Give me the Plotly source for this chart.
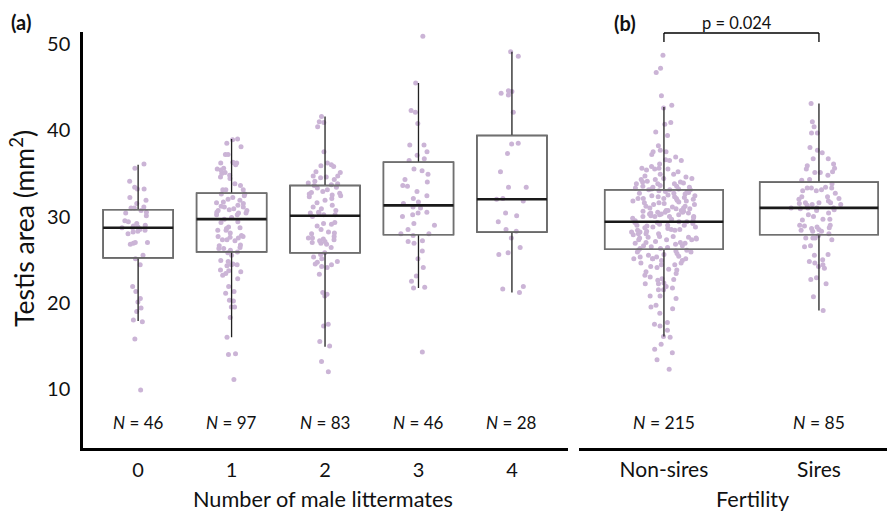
import plotly.graph_objects as go

# ---------------- data ----------------
cats_a = ["0", "1", "2", "3", "4"]
n_a = [46, 97, 83, 46, 28]
cats_b = ["Non-sires", "Sires"]
n_b = [215, 85]
p_text = "p = 0.024"

vals_0 = [36.1, 35.6, 34.1, 33.4, 33.2, 33.2, 32.2, 31.9, 31.5, 31.1, 31.0, 31.0, 30.7, 30.5, 30.4, 30.1,
          29.5, 29.4, 29.2, 29.0, 28.9, 28.8, 28.7, 28.7, 28.5, 28.4, 28.3, 28.2, 28.0, 27.0, 27.0, 26.9,
          26.8, 25.5, 25.1, 24.4, 21.9, 21.3, 20.5, 20.1, 19.4, 19.0, 18.0, 17.8, 15.8, 9.9]
vals_1 = [39.0, 38.9, 38.5, 38.1, 37.2, 37.2, 36.2, 36.2, 36.0, 36.2, 36.3, 35.6, 35.5, 35.4, 35.1, 34.8,
          35.0, 34.6, 34.4, 33.8, 33.6, 33.1, 33.1, 33.1, 32.6, 32.6, 32.4, 32.2, 32.0, 31.9, 31.7, 31.6,
          31.5, 31.3, 31.2, 31.1, 31.1, 30.9, 30.8, 30.7, 30.7, 30.5, 30.4, 30.4, 30.2, 30.2, 29.9, 29.7,
          29.4, 29.3, 28.8, 28.7, 28.6, 28.4, 28.4, 28.1, 27.8, 27.7, 27.7, 27.6, 27.5, 27.3, 27.3, 27.2,
          26.7, 26.6, 26.4, 26.3, 26.3, 26.1, 25.9, 25.8, 25.5, 24.9, 24.8, 24.5, 24.4, 24.4, 24.3, 23.8,
          23.7, 23.6, 23.4, 23.2, 22.8, 21.9, 21.3, 21.1, 20.3, 20.2, 19.5, 19.5, 18.3, 16.0, 14.1, 14.0, 11.1]
vals_2 = [41.6, 41.0, 40.9, 40.4, 37.5, 36.2, 36.0, 35.8, 35.9, 35.2, 35.1, 34.7, 34.7, 34.6, 34.5, 34.3,
          34.1, 33.9, 33.8, 33.7, 33.6, 33.4, 33.3, 33.1, 32.9, 32.8, 32.7, 32.6, 32.5, 32.4, 32.3, 32.1,
          31.9, 31.6, 31.3, 31.1, 30.9, 30.7, 30.5, 30.4, 30.4, 30.2, 30.2, 29.3, 29.2, 29.1, 28.9, 28.5,
          28.2, 28.1, 28.0, 27.7, 27.5, 27.5, 27.4, 27.3, 27.2, 27.1, 27.0, 26.9, 26.4, 25.8, 25.6, 25.3,
          25.1, 24.8, 24.7, 24.5, 24.4, 24.2, 24.1, 23.3, 21.2, 21.0, 20.8, 17.5, 17.3, 15.5, 15.0, 13.2,
          12.0, 30.0, 26.8]
vals_3 = [50.9, 45.5, 42.3, 42.1, 40.8, 38.3, 38.3, 37.5, 37.1, 36.7, 36.5, 35.5, 35.3, 34.9, 34.3, 34.0,
          33.6, 33.5, 32.9, 32.4, 32.1, 31.7, 31.5, 31.1, 31.0, 30.5, 30.4, 30.2, 30.0, 29.2, 29.0, 28.5,
          28.0, 28.0, 27.8, 27.2, 27.1, 26.9, 26.0, 25.1, 24.1, 23.1, 22.5, 21.8, 21.7, 14.3]
vals_4 = [49.1, 48.6, 44.6, 44.5, 44.3, 44.1, 42.1, 38.5, 38.4, 37.3, 35.2, 33.4, 33.4, 32.1, 32.0, 31.8,
          30.4, 30.1, 29.4, 28.5, 28.3, 27.5, 26.4, 25.8, 25.6, 21.9, 21.6, 21.2]

vals_ns = [48.7, 47.2, 46.7, 44.0, 42.9, 42.6, 40.9, 40.7, 39.8, 39.4, 38.2, 37.5, 37.7, 37.5, 37.2, 36.9,
           36.5, 36.5, 36.6, 35.8, 35.4, 35.6, 35.6, 35.5, 35.5, 34.9, 34.7, 34.9, 34.6, 34.3, 34.4, 34.3,
           34.0, 34.0, 33.9, 33.8, 33.8, 33.6, 33.5, 33.4, 33.4, 33.2, 32.9, 33.1, 33.2, 33.1, 32.9, 32.7,
           32.8, 32.5, 32.4, 32.3, 32.1, 32.1, 32.1, 32.3, 32.1, 31.8, 31.7, 31.6, 31.2, 31.2, 31.4, 30.9,
           30.7, 30.7, 30.5, 30.6, 30.4, 30.5, 30.9, 30.2, 30.3, 30.2, 30.3, 30.0, 30.0, 30.0, 29.4, 29.3,
           29.3, 29.4, 29.5, 29.2, 29.0, 29.0, 28.9, 28.6, 28.3, 28.0, 28.0, 28.5, 28.2, 28.8, 28.4, 28.5,
           27.7, 27.7, 27.3, 27.6, 27.3, 27.5, 27.5, 27.3, 27.0, 26.8, 27.0, 26.9, 26.3, 25.9, 26.9, 26.6,
           26.1, 26.0, 26.4, 26.1, 25.1, 25.1, 25.1, 25.3, 25.3, 25.4, 25.9, 25.1, 24.6, 24.9, 24.2, 24.4,
           24.4, 23.8, 23.9, 23.6, 23.0, 22.7, 22.6, 22.8, 22.3, 22.2, 21.9, 22.2, 21.7, 21.5, 21.5, 20.8,
           20.8, 20.5, 19.3, 19.5, 19.7, 18.8, 17.7, 17.5, 17.3, 16.8, 16.1, 16.0, 15.2, 14.6, 14.2, 13.4,
           12.3,
           34.4, 34.1, 33.5, 33.3, 33.0, 32.7, 32.4, 32.2, 32.0, 31.8, 31.6, 31.4, 31.1, 31.0, 30.7, 30.5,
           30.4, 30.0, 29.8, 29.7, 29.1, 28.8, 28.7, 28.2, 27.9, 27.6, 27.1, 26.6, 26.3, 25.7, 25.5, 24.9,
           24.1, 23.2,
           36.1, 35.2, 33.8, 33.1, 32.6, 31.9, 31.5, 31.0, 30.6, 30.1, 29.9, 29.5, 29.0, 28.4, 28.0, 27.4,
           26.5, 25.6, 24.6, 23.4]
vals_s = [43.1, 41.0, 40.4, 39.7, 39.7, 38.0, 37.7, 37.4, 36.7, 36.7, 36.1, 35.9, 35.6, 35.5, 35.1, 35.1,
          35.2, 34.8, 34.2, 34.3, 33.8, 33.4, 33.3, 33.3, 33.3, 33.0, 33.0, 32.7, 32.3, 32.3, 32.1, 32.0,
          31.6, 31.8, 31.6, 31.4, 31.4, 31.3, 31.6, 31.0, 30.8, 31.0, 30.9, 31.0, 31.0, 30.4, 30.2, 29.7,
          29.6, 29.7, 29.0, 28.9, 29.0, 28.8, 28.7, 28.5, 28.4, 28.6, 28.3, 28.3, 27.8, 27.5, 27.5, 27.5,
          27.3, 26.6, 26.5, 25.6, 25.5, 25.0, 24.8, 24.6, 24.4, 24.0, 24.2, 22.9, 22.7, 22.2, 20.7, 19.1,
          33.1, 31.5, 30.7, 30.0, 28.0]

# box statistics
q1_a = [25.2, 25.9, 25.8, 27.9, 28.2]
med_a = [28.7, 29.7, 30.1, 31.3, 32.0]
q3_a = [30.8, 32.7, 33.6, 36.3, 39.4]
lo_a = [17.9, 16.0, 14.9, 21.7, 21.2]
hi_a = [36.0, 39.0, 41.6, 45.5, 49.1]
q1_b = [26.2, 27.9]
med_b = [29.4, 31.0]
q3_b = [33.1, 34.0]
lo_b = [16.1, 19.1]
hi_b = [42.7, 43.1]

vals_a = [vals_0, vals_1, vals_2, vals_3, vals_4]
vals_b = [vals_ns, vals_s]

# ---------------- style ----------------
FONT = "Lato, 'Open Sans', sans-serif"
PT = "#cbb4d6"
BOXGREY = "#707070"
TRANSP = "rgba(0,0,0,0)"
W_A = 0.75
W_B = 0.765

fig = go.Figure()


def add_panel(cats, vals, q1, med, q3, lo, hi, xa, ya, width):
    for c, v in zip(cats, vals):
        fig.add_trace(go.Box(x=[c] * len(v), y=v, xaxis=xa, yaxis=ya, boxpoints="all", jitter=0.55,
                             pointpos=0, width=width, fillcolor=TRANSP, line=dict(width=0, color=TRANSP),
                             whiskerwidth=0,
                             marker=dict(color=PT, size=5, line=dict(width=0)), hoverinfo="y",
                             showlegend=False))
    # whiskers (black)
    fig.add_trace(go.Box(x=cats, q1=q1, median=med, q3=q3, lowerfence=lo, upperfence=hi,
                         xaxis=xa, yaxis=ya, width=width, fillcolor=TRANSP, whiskerwidth=0,
                         line=dict(color="#222222", width=1.3), boxpoints=False, showlegend=False))
    # box outline (grey)
    fig.add_trace(go.Box(x=cats, q1=q1, median=med, q3=q3, lowerfence=q1, upperfence=q3,
                         xaxis=xa, yaxis=ya, width=width, fillcolor=TRANSP, whiskerwidth=0,
                         line=dict(color=BOXGREY, width=1.5), boxpoints=False, showlegend=False))
    # median (thick black)
    fig.add_trace(go.Box(x=cats, q1=med, median=med, q3=med, lowerfence=med, upperfence=med,
                         xaxis=xa, yaxis=ya, width=width, fillcolor=TRANSP, whiskerwidth=0,
                         line=dict(color="#1a1a1a", width=2.6), boxpoints=False, showlegend=False))


add_panel(cats_a, vals_a, q1_a, med_a, q3_a, lo_a, hi_a, "x", "y", W_A)
add_panel(cats_b, vals_b, q1_b, med_b, q3_b, lo_b, hi_b, "x2", "y", W_B)

W, H = 887, 515
ML, MR, MT, MB = 83, 0, 32, 67
PW, PH = W - ML - MR, H - MT - MB


def px(xpix):
    return (xpix - ML) / PW


def py(ypix):
    return (H - MB - ypix) / PH


tick_a = dict(family=FONT, size=20, color="#111111")
tick_b = dict(family=FONT, size=21, color="#111111")

fig.update_layout(
    template="none",
    width=W, height=H, margin=dict(l=ML, r=MR, t=MT, b=MB, autoexpand=False),
    paper_bgcolor="white", plot_bgcolor="white", boxmode="overlay", showlegend=False,
    font=dict(family=FONT, color="#111111"),
    xaxis=dict(domain=[0, px(568)], type="category", range=[-0.59, 4.6], showline=True,
               linecolor="black", linewidth=2.5, showgrid=False, zeroline=False, ticks="outside",
               ticklen=2, tickcolor=TRANSP, tickfont=tick_a, automargin=False),
    xaxis2=dict(domain=[px(579), 1], type="category", range=[-0.548, 1.439], anchor="y",
                showline=True, linecolor="black", linewidth=2.5, showgrid=False, zeroline=False,
                ticks="outside", ticklen=1, tickcolor=TRANSP, tickfont=tick_b, automargin=False),
    yaxis=dict(range=[3.16, 51.4], showline=True, linecolor="black", linewidth=2.5, showgrid=False,
               zeroline=False, tickvals=[10, 20, 30, 40, 50], ticks="outside", ticklen=6,
               tickcolor=TRANSP, tickfont=tick_a, automargin=False),
)


def label(text, xp, yp, size, bold=False, angle=0, xref="paper"):
    return dict(text=f"<b>{text}</b>" if bold else text, x=xp, y=yp, xref=xref, yref="paper",
                xanchor="center", yanchor="middle", showarrow=False, textangle=angle,
                font=dict(family=FONT, size=size, color="#111111"))


ann = [
    label("(a)", px(21), py(22), 20, bold=True),
    label("(b)", px(625), py(23), 20, bold=True),
    label("Testis area (mm<sup>2</sup>)", px(22), py(229), 26.5, angle=-90),
    label("Number of male littermates", px(323), py(499), 21.7),
    label("Fertility", px(752), py(499), 21.7),
    label(p_text, px(737), py(23), 16.5),
]
for c, n in zip(cats_a, n_a):
    ann.append(label(f"<i>N</i> = {n}", c, py(422), 17, xref="x"))
for c, n in zip(cats_b, n_b):
    ann.append(label(f"<i>N</i> = {n}", c, py(422), 17.5, xref="x2"))
fig.update_layout(annotations=ann)

# significance bracket between the two fertility groups
br = dict(color="black", width=1.3)
fig.add_shape(type="line", xref="x2", yref="paper", x0=0, x1=1, y0=py(33), y1=py(33), line=br)
fig.add_shape(type="line", xref="x2", yref="paper", x0=0, x1=0, y0=py(33), y1=py(42), line=br)
fig.add_shape(type="line", xref="x2", yref="paper", x0=1, x1=1, y0=py(33), y1=py(42), line=br)

fig.write_html("out.html", config={"displayModeBar": False},
               post_script="document.body.style.margin='0';document.body.style.overflow='hidden';")
